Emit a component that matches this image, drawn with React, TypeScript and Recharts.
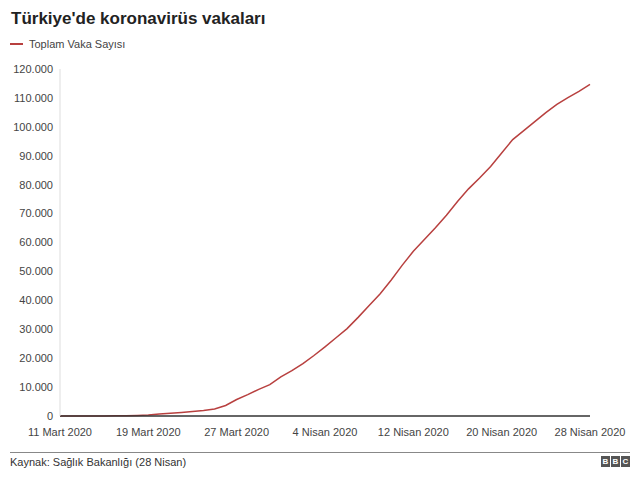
import { LineChart, Line, XAxis, YAxis } from "recharts";

const START_LABELS = ["11 Mart 2020", "19 Mart 2020", "27 Mart 2020", "4 Nisan 2020", "12 Nisan 2020", "20 Nisan 2020", "28 Nisan 2020"];
const TICK_DAYS = [0, 8, 16, 24, 32, 40, 48];
const Y_TICKS = [0, 10000, 20000, 30000, 40000, 50000, 60000, 70000, 80000, 90000, 100000, 110000, 120000];

// toplam vaka, 11 Mart - 28 Nisan (gunluk)
const CASES = [
  1, 1, 5, 6, 18, 47, 98, 191, 359, 670,
  947, 1236, 1529, 1872, 2433, 3629, 5698, 7402, 9217, 10827,
  13531, 15679, 18135, 20921, 23934, 27069, 30217, 34109, 38226, 42282,
  47029, 52167, 56956, 61049, 65111, 69392, 74193, 78546, 82329, 86306,
  90980, 95591, 98674, 101790, 104912, 107773, 110130, 112261, 114653,
];

const data = CASES.map((v, i) => ({ day: i, cases: v }));

const FONT = "'Liberation Sans', Arial, sans-serif";
const RED = "#b8403f";

const fmt = (v: number) => String(v).replace(/\B(?=(\d{3})+(?!\d))/g, ".");

function BbcLogo() {
  const box = {
    width: 9,
    height: 11,
    background: "#555",
    color: "#fff",
    fontSize: 8,
    fontWeight: 700,
    lineHeight: "11px",
    textAlign: "center" as const,
    marginLeft: 1,
  };
  return (
    <div style={{ position: "absolute", left: 600, top: 456, display: "flex", fontFamily: FONT }}>
      <div style={box}>B</div>
      <div style={box}>B</div>
      <div style={box}>C</div>
    </div>
  );
}

export default function App() {
  return (
    <div style={{ position: "fixed", left: 0, top: 0, width: 640, height: 481, background: "#fff", fontFamily: FONT }}>
      <div style={{ position: "absolute", left: 11, top: 9, fontSize: 17, fontWeight: 700, color: "#222" }}>
        Türkiye'de koronavirüs vakaları
      </div>
      <div style={{ position: "absolute", left: 10, top: 38, display: "flex", alignItems: "center", fontSize: 11, color: "#444" }}>
        <div style={{ width: 13, height: 2, background: RED, marginRight: 6 }} />
        Toplam Vaka Sayısı
      </div>
      <div style={{ position: "absolute", left: 0, top: 0 }}>
        <LineChart width={640} height={481} data={data} margin={{ top: 69, right: 50, bottom: 35, left: 0 }}>
          <XAxis
            dataKey="day"
            type="number"
            domain={[0, 48]}
            ticks={TICK_DAYS}
            tickFormatter={(d: number) => START_LABELS[TICK_DAYS.indexOf(d)]}
            interval={0}
            height={30}
            tickSize={0}
            tickMargin={12}
            axisLine={{ stroke: "#333", strokeWidth: 1.5 }}
            tick={{ fill: "#444", fontSize: 11, fontFamily: FONT }}
          />
          <YAxis
            domain={[0, 120000]}
            ticks={Y_TICKS}
            interval={0}
            width={60}
            tickSize={0}
            tickMargin={7}
            tickFormatter={fmt}
            axisLine={{ stroke: "#ddd" }}
            tick={{ fill: "#444", fontSize: 11, fontFamily: FONT }}
          />
          <Line
            type="linear"
            dataKey="cases"
            stroke={RED}
            strokeWidth={1.5}
            dot={false}
            isAnimationActive={false}
          />
        </LineChart>
      </div>
      <div style={{ position: "absolute", left: 10, top: 452, width: 620, height: 1, background: "#888" }} />
      <div style={{ position: "absolute", left: 10, top: 456, fontSize: 11, color: "#333" }}>
        Kaynak: Sağlık Bakanlığı (28 Nisan)
      </div>
      <BbcLogo />
    </div>
  );
}
